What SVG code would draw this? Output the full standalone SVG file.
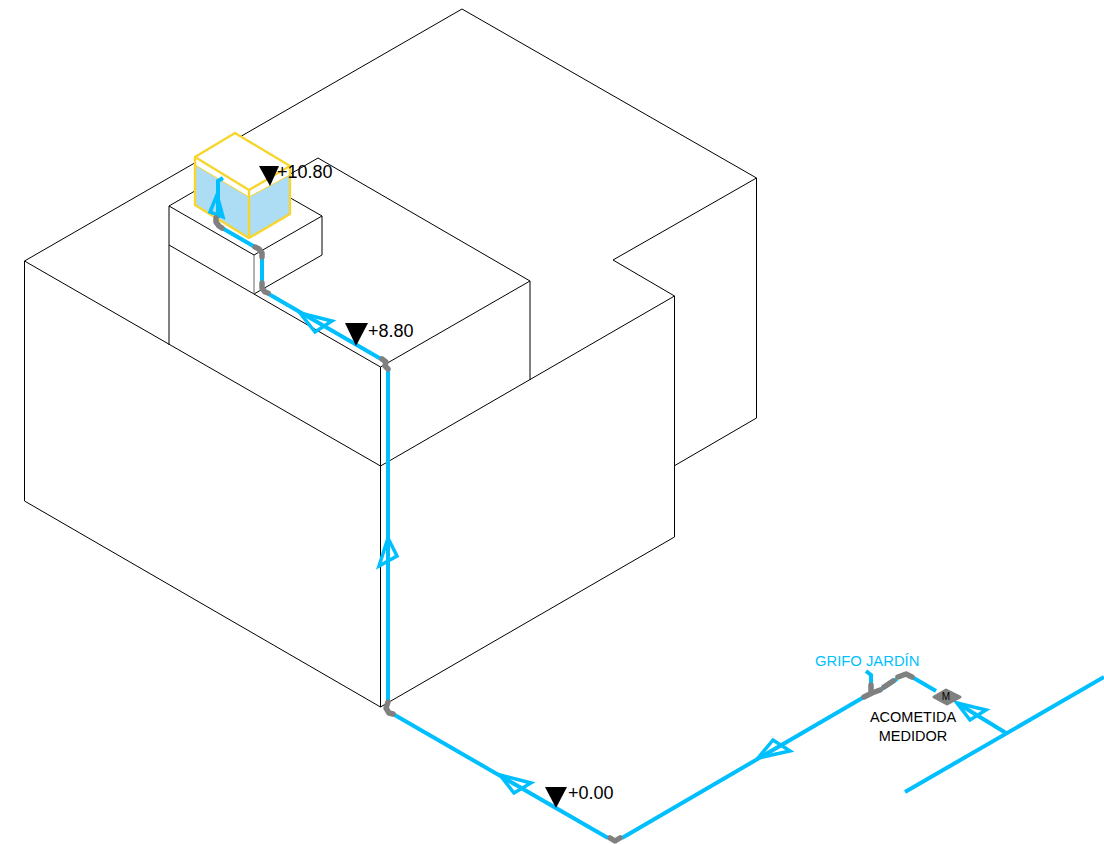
<svg xmlns="http://www.w3.org/2000/svg" width="1104" height="844" viewBox="0 0 1104 844">
<style>
text{font-family:"Liberation Sans",Arial,sans-serif;fill:#000}
.b{fill:none;stroke:#000;stroke-width:1}
.p{fill:none;stroke:#00bfff;stroke-width:4}
.a{fill:none;stroke:#00bfff;stroke-width:3.500;stroke-linejoin:miter}
.g{fill:none;stroke:#808080;stroke-width:5.500;stroke-linecap:round;stroke-linejoin:round}
.d{fill:#808080;stroke:#808080;stroke-width:3;stroke-linejoin:round}
.l{font-size:18px}
.y{fill:none;stroke:#f7d52d;stroke-width:2.400;stroke-linejoin:round}
</style>
<rect width="1104" height="844" fill="#fff"/>
<g id="building">
<path class="b" d="M24.500 261L462 9L756.500 178L613 260L674.500 296L674.500 537L380.500 707L24.500 501L24.500 261L380.500 466L674.500 296"/>
<path class="b" d="M756.500 178V418L674 466"/>
<path class="b" d="M380.500 466V707"/>
<path class="b" d="M169 245L380.500 367L530 281L318 158L280 180"/>
<path class="b" d="M169 245V345M380.500 367V466M530 281V380"/>
<path class="b" d="M169 245V206L254 255L322 216L280 192M169 206L200 188"/>
<path class="b" d="M322 216V255L254 294"/>
<path d="M254 255V294" fill="none" stroke="#666" stroke-width="1"/>
</g>
<g id="tank">
<path d="M195 157L235 133L290 166L249 190Z" fill="#fff"/>
<path d="M195 157V165L249 197V190ZM249 190V197L290 175V166Z" fill="#fff"/>
<path d="M195 165L249 197V238L195 205Z" fill="#addcf5"/>
<path d="M249 197L290 175V214L249 238Z" fill="#addcf5"/>
<path class="y" d="M195 157L235 133L290 166L249 190ZM195 157V205L249 238L290 214V166M249 190V238"/>
<path d="M195 165L249 197L290 175" fill="none" stroke="#f7d52d" stroke-width="1"/>
</g>
<g id="connectors">
<path class="p" d="M223 178L218 181V218"/>
<path class="a" d="M217 195L210 212L223 217Z"/>
<path class="p" d="M222 228L255 247"/>
<path class="p" d="M262 257V284"/>
<path class="p" d="M267 293L381 359"/>
<path class="a" d="M300 313L332 321L315 332Z"/>
<path class="p" d="M388 370V703"/>
<path class="a" d="M388 538L379 566L397 556Z"/>
<path class="p" d="M393 714L608 838"/>
<path class="a" d="M500 775L531 783L514 793Z"/>
<path class="p" d="M622 838L864 697"/>
<path class="a" d="M758 758L773 740L790 751Z"/>
<path class="p" d="M866 671L871 675V686"/>
<path class="p" d="M880 690L897 679"/>
<path class="p" d="M912 677L936 691"/>
<path class="p" d="M957 703L1006 733"/>
<path class="a" d="M957 703L986 710L970 720Z"/>
<path class="p" d="M905 792L1104 677"/>
</g>
<g id="fittings">
<path class="g" d="M216 218L216 222L219 226L222 228"/>
<path class="g" d="M255 247L259 249L262 253V257"/>
<path class="g" d="M262 283V288L265 292L268 293"/>
<path class="g" d="M382 359L386 362L385 366L388 369"/>
<path class="g" d="M388 702L386 708L389 713L393 714"/>
<path class="g" d="M610 838L615 841L620 838"/>
<path class="g" d="M864 697L872 693L880 690M871 685V691"/>
<path class="g" d="M884 687L893 681"/>
<path class="g" d="M898 677L906 674L912 677"/>
</g>
<g id="meter">
<path class="d" d="M934 697L946 690L960 697L947 704Z"/>
<text x="946" y="700" font-size="10" text-anchor="middle">M</text>
</g>
<g id="levels">
<path d="M259 166H279L270 186Z"/>
<text class="l" x="277" y="178">+10.80</text>
<path d="M345 323H368L356 346Z"/>
<text class="l" x="368" y="337">+8.80</text>
<path d="M545 787H567L556 808Z"/>
<text class="l" x="568" y="799">+0.00</text>
</g>
<g id="labels">
<text x="815" y="666" font-size="14.800" style="fill:#00bfff">GRIFO JARDÍN</text>
<text x="913" y="722" font-size="14.500" text-anchor="middle">ACOMETIDA</text>
<text x="913" y="741" font-size="14.500" text-anchor="middle">MEDIDOR</text>
</g>
</svg>
